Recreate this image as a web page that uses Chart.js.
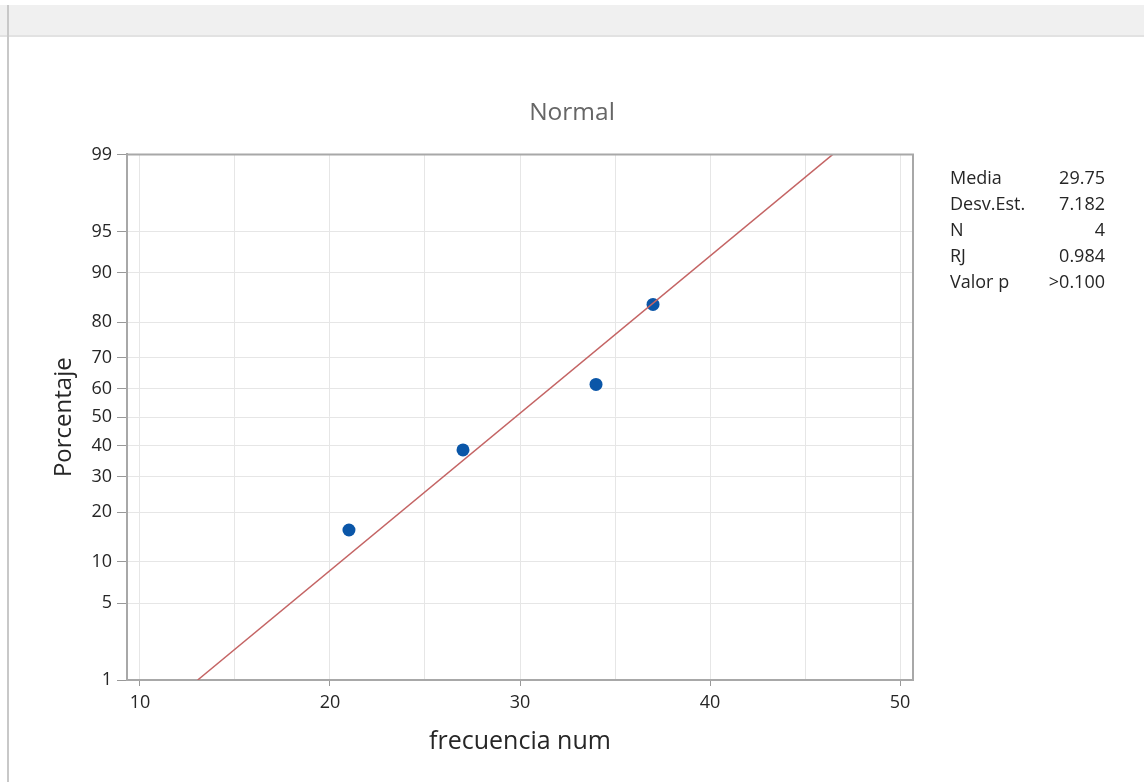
<!DOCTYPE html>
<html>
<head>
<meta charset="utf-8">
<script src="https://cdn.jsdelivr.net/npm/chart.js@4.4.1/dist/chart.umd.min.js"></script>
<style>
  html, body { margin: 0; padding: 0; background: #fff; }
  body { width: 1144px; height: 782px; position: relative; overflow: hidden; }
  .barra { position: absolute; left: 0; top: 5px; width: 1144px; height: 30px; background: #f0f0f0; border-bottom: 2px solid #e2e2e2; }
  .borde { position: absolute; left: 7px; top: 5px; width: 2px; height: 777px; background: #c8c8c8; }
  #grafico { position: absolute; left: 0; top: 0; }
</style>
</head>
<body>
<div class="barra"></div>
<div class="borde"></div>
<canvas id="grafico" width="1144" height="782"></canvas>
<script>
// datos
const frecuencia = [21, 27, 34, 37];
const porcentaje = [15.9, 38.6, 61.4, 84.1];
const ajusteX = [13.04, 46.46];
const ajusteP = [1, 99];
const xEtiquetas = [10, 20, 30, 40, 50];
const xRejilla = [10, 15, 20, 25, 30, 35, 40, 45, 50];
const yEtiquetas = [1, 5, 10, 20, 30, 40, 50, 60, 70, 80, 90, 95, 99];
const statNombres = ['Media', 'Desv.Est.', 'N', 'RJ', 'Valor p'];
const statValores = ['29.75', '7.182', '4', '0.984', '>0.100'];

// inversa de la normal (Acklam)
function probit(p) {
    const a = [-39.69683028665376, 220.9460984245205, -275.9285104469687, 138.3577518672690, -30.66479806614716, 2.506628277459239];
    const b = [-54.47609879822406, 161.5858368580409, -155.6989798598866, 66.80131188771972, -13.28068155288572];
    const c = [-0.007784894002430293, -0.3223964580411365, -2.400758277161838, -2.549732539343734, 4.374664141464968, 2.938163982698783];
    const d = [0.007784695709041462, 0.3224671290700398, 2.445134137142996, 3.754408661907416];
    const pl = 0.02425;
    let q, r;
    if (p < pl) {
        q = Math.sqrt(-2 * Math.log(p));
        return (((((c[0]*q+c[1])*q+c[2])*q+c[3])*q+c[4])*q+c[5]) / ((((d[0]*q+d[1])*q+d[2])*q+d[3])*q+1);
    }
    if (p > 1 - pl) {
        q = Math.sqrt(-2 * Math.log(1 - p));
        return -(((((c[0]*q+c[1])*q+c[2])*q+c[3])*q+c[4])*q+c[5]) / ((((d[0]*q+d[1])*q+d[2])*q+d[3])*q+1);
    }
    q = p - 0.5;
    r = q * q;
    return (((((a[0]*r+a[1])*r+a[2])*r+a[3])*r+a[4])*r+a[5])*q / (((((b[0]*r+b[1])*r+b[2])*r+b[3])*r+b[4])*r+1);
}

function normalCdf(z) {
    const t = 1 / (1 + 0.2316419 * Math.abs(z));
    const dd = 0.3989423 * Math.exp(-z * z / 2);
    const pr = dd * t * (0.3193815 + t * (-0.3565638 + t * (1.781478 + t * (-1.821256 + t * 1.330274))));
    return z > 0 ? 1 - pr : pr;
}

// escala de probabilidad normal para el eje Y
class ProbabilityScale extends Chart.Scale {
    determineDataLimits() {
        this.min = this.options.min;
        this.max = this.options.max;
    }
    buildTicks() {
        return [];
    }
    getLabelForValue(value) {
        return String(value);
    }
    configure() {
        super.configure();
        this._zMin = probit(this.min / 100);
        this._zMax = probit(this.max / 100);
    }
    getPixelForValue(value) {
        const z = probit(value / 100);
        return this.getPixelForDecimal((z - this._zMin) / (this._zMax - this._zMin));
    }
    getValueForPixel(pixel) {
        const z = this._zMin + this.getDecimalForPixel(pixel) * (this._zMax - this._zMin);
        return normalCdf(z) * 100;
    }
}
ProbabilityScale.id = 'probability';
ProbabilityScale.defaults = {};
Chart.register(ProbabilityScale);

Chart.defaults.font.family = "'Open Sans', 'Noto Sans', sans-serif";
Chart.defaults.color = '#262626';

// marco superior/derecho y tabla de estadisticos
const extras = {
    id: 'extras',
    afterDraw(chart) {
        const ctx = chart.ctx;
        const a = chart.chartArea;
        ctx.save();
        ctx.strokeStyle = '#a8a8a8';
        ctx.lineWidth = 2;
        ctx.beginPath();
        ctx.moveTo(a.left, a.top);
        ctx.lineTo(a.right, a.top);
        ctx.lineTo(a.right, a.bottom);
        ctx.stroke();
        ctx.font = "18px 'Open Sans'";
        ctx.fillStyle = '#262626';
        ctx.textBaseline = 'middle';
        statNombres.forEach((n, i) => {
            const y = 179 + i * 26;
            ctx.textAlign = 'left';
            ctx.fillText(n, 950, y);
            ctx.textAlign = 'right';
            ctx.fillText(statValores[i], 1105, y);
        });
        ctx.restore();
    }
};

const ctx = document.getElementById('grafico').getContext('2d');
const chart = new Chart(ctx, {
    data: {
        datasets: [{
            type: 'line',
            label: 'Ajuste',
            data: ajusteX.map((x, i) => ({ x: x, y: ajusteP[i] })),
            borderColor: '#c46464',
            borderWidth: 1.5,
            pointRadius: 0,
            fill: false
        }, {
            type: 'scatter',
            label: 'frecuencia num',
            data: frecuencia.map((x, i) => ({ x: x, y: porcentaje[i] })),
            backgroundColor: '#0a56a8',
            borderWidth: 0,
            pointRadius: 6.5
        }]
    },
    options: {
        responsive: false,
        animation: false,
        layout: { padding: 0 },
        plugins: {
            legend: { display: false },
            tooltip: { enabled: false },
            title: {
                display: true,
                text: 'Normal',
                color: '#666',
                font: { size: 24.5, weight: 'normal' },
                padding: { top: 98, bottom: 27 }
            }
        },
        scales: {
            x: {
                type: 'linear',
                position: 'bottom',
                min: 9.32,
                max: 50.68,
                afterBuildTicks: (s) => { s.ticks = xRejilla.map(v => ({ value: v })); },
                afterFit: (s) => { s.height = 102; },
                ticks: {
                    autoSkip: false,
                    maxRotation: 0,
                    padding: 6,
                    font: { size: 18 },
                    callback: (v) => xEtiquetas.includes(v) ? v : ''
                },
                grid: {
                    color: '#e6e6e6',
                    tickLength: 6,
                    tickColor: (c) => (c.tick && xEtiquetas.includes(c.tick.value)) ? '#999' : 'rgba(0,0,0,0)'
                },
                border: { color: '#a8a8a8', width: 2 },
                title: {
                    display: true,
                    text: 'frecuencia num',
                    font: { size: 25 },
                    padding: { top: 0, bottom: 25 }
                }
            },
            y: {
                type: 'probability',
                position: 'left',
                min: 1,
                max: 99,
                afterBuildTicks: (s) => { s.ticks = yEtiquetas.map(v => ({ value: v })); },
                afterFit: (s) => { s.width = 127; },
                ticks: {
                    autoSkip: false,
                    padding: 5,
                    font: { size: 18 }
                },
                grid: {
                    color: '#e6e6e6',
                    tickLength: 10,
                    tickColor: '#999'
                },
                border: { color: '#a8a8a8', width: 2 },
                title: {
                    display: true,
                    text: 'Porcentaje',
                    font: { size: 24 },
                    padding: { top: 50, bottom: 0 }
                }
            },
            // eje vacio a la derecha: deja sitio para la tabla de estadisticos
            panel: {
                type: 'linear',
                position: 'right',
                afterFit: (s) => { s.width = 231; },
                ticks: { display: false },
                grid: { display: false, drawTicks: false },
                border: { display: false }
            }
        }
    },
    plugins: [extras]
});
</script>
</body>
</html>
